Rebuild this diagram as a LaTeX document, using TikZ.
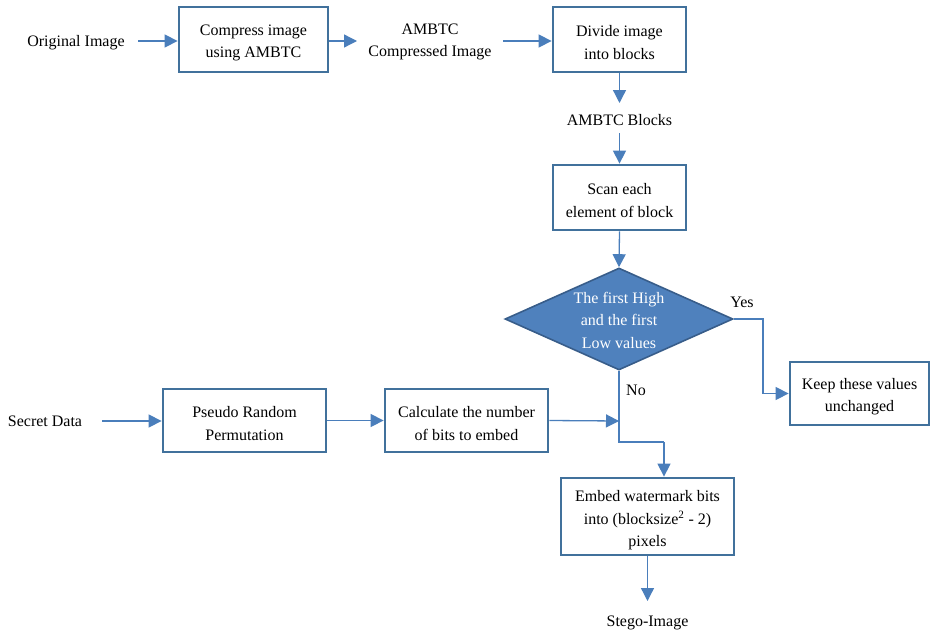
\documentclass[tikz,border=0pt]{standalone}
\usepackage{fontspec}
\setmainfont{Liberation Serif}
\usetikzlibrary{arrows.meta,shapes.geometric}
\definecolor{boxline}{HTML}{41719C}
\definecolor{arrowc}{HTML}{4A7EBB}
\definecolor{dfill}{HTML}{4F81BD}
\definecolor{dline}{HTML}{385D8A}
\newcommand\toplead{\rule{0pt}{17pt}}
\tikzset{
  stepbox/.style={draw=boxline, line width=2.8pt, fill=white, align=center, inner sep=0pt, font=\fontsize{16}{22.5}\selectfont},
  lbl/.style={align=center, inner sep=1pt, font=\fontsize{16}{22.5}\selectfont},
  conn/.style={draw=arrowc, line width=1.3pt, -{Triangle[length=13pt,width=13pt]}},
  plain/.style={draw=arrowc, line width=1.3pt},
}
\begin{document}
\begin{tikzpicture}[x=1pt,y=-1pt]
\useasboundingbox (0,0) rectangle (931,634);
% top row
\node[lbl] (orig) at (76,43) {Original Image};
\node[stepbox, minimum width=149pt, minimum height=65pt] (comp) at (253.5,39.5) {\toplead Compress image\\using AMBTC};
\node[lbl] (cimg) at (430,42) {AMBTC\\Compressed Image};
\node[stepbox, minimum width=133pt, minimum height=65pt] (div) at (619.5,39.5) {\toplead Divide image\\into blocks};
\node[lbl] (blocks) at (619.5,120.5) {AMBTC Blocks};
\node[stepbox, minimum width=133pt, minimum height=65pt] (scan) at (619.5,197.5) {\toplead Scan each\\element of block};
\node[diamond, draw=dline, line width=1.6pt, fill=dfill, minimum width=228pt, minimum height=102pt, inner sep=0pt, aspect=2.2] (dec) at (619,319) {};
\node[text=white, align=center, font=\fontsize{16}{22.5}\selectfont] (dectext) at (619,320) {The first High\\and the first\\Low values};
\node[lbl] (yes) at (742,302) {Yes};
\node[lbl] (no) at (636,390) {No};
\node[stepbox, minimum width=139pt, minimum height=63pt] (keep) at (859.5,393.5) {\toplead Keep these values\\unchanged};
% secret row
\node[lbl] (secret) at (45,421) {Secret Data};
\node[stepbox, minimum width=163pt, minimum height=63pt] (perm) at (244.5,420.5) {\toplead Pseudo Random\\Permutation};
\node[stepbox, minimum width=163pt, minimum height=63pt] (calc) at (466.5,420.5) {\toplead Calculate the number\\of bits to embed};
\node[stepbox, minimum width=173pt, minimum height=77pt] (emb) at (647.5,516.5) {\rule{0pt}{19pt}Embed watermark bits\\into (blocksize\textsuperscript{2} - 2)\\pixels};
\node[lbl] (stego) at (647.5,622.5) {Stego-Image};
% free ends / bends
\coordinate (o1) at (138,41);
\coordinate (c0) at (357,41);
\coordinate (c1) at (503,41);
\coordinate (b0) at (619.5,103);
\coordinate (b1) at (619.5,133);
\coordinate (y1) at (763,319);
\coordinate (s1) at (102,421);
\coordinate (j1) at (619,442);
\coordinate (j2) at (664,442);
\coordinate (jc) at (619,421);
\coordinate (st) at (647.5,601);
% connectors
\draw[conn] (o1) -- (o1 -| comp.west);
\draw[conn] (c0 -| comp.east) -- (c0);
\draw[conn] (c1) -- (c1 -| div.west);
\draw[conn] (div.south) -- (b0);
\draw[conn] (b1) -- (scan.north);
\draw[conn] (scan.south) -- (dec.north);
\draw[conn] (dec.east) -- (y1) |- (keep.west);
\draw[plain] (dec.south) -- (j1) -- (j2);
\draw[conn] (j2) -- (emb.north -| j2);
\draw[conn] (s1) -- (s1 -| perm.west);
\draw[conn] (perm.east) -- (calc.west);
\draw[conn] (calc.east) -- (jc);
\draw[conn] (emb.south) -- (st);
\end{tikzpicture}
\end{document}
